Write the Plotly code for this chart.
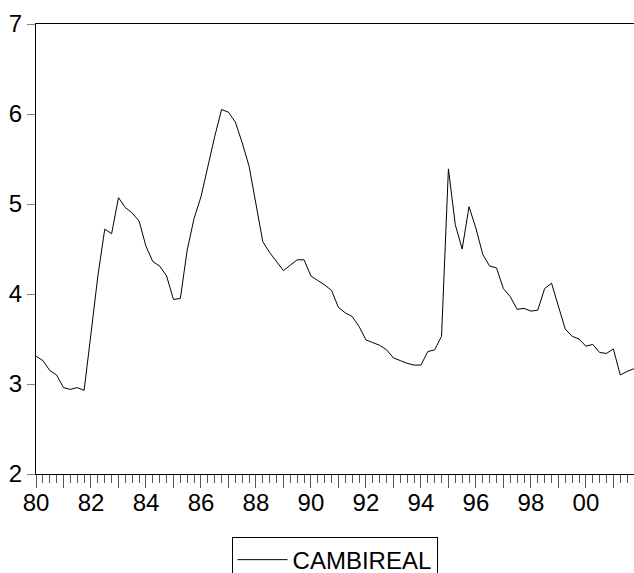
import plotly.graph_objects as go

# Quarterly real exchange rate, 1980Q1 - 2001Q4
start_year = 1980
cambireal = [
    3.31, 3.26, 3.15, 3.10, 2.96, 2.94, 2.96, 2.93,
    3.56, 4.20, 4.72, 4.67, 5.07, 4.96, 4.90, 4.81,
    4.53, 4.36, 4.31, 4.20, 3.94, 3.95, 4.49, 4.84,
    5.08, 5.42, 5.75, 6.05, 6.02, 5.91, 5.68, 5.42,
    5.01, 4.58, 4.46, 4.36, 4.26, 4.32, 4.38, 4.38,
    4.20, 4.15, 4.10, 4.04, 3.85, 3.79, 3.75, 3.64,
    3.49, 3.46, 3.43, 3.38, 3.29, 3.26, 3.23, 3.21,
    3.21, 3.36, 3.38, 3.53, 5.39, 4.77, 4.50, 4.97,
    4.73, 4.44, 4.31, 4.29, 4.06, 3.97, 3.83, 3.84,
    3.81, 3.82, 4.06, 4.12, 3.86, 3.61, 3.53, 3.50,
    3.42, 3.44, 3.35, 3.34, 3.39, 3.10, 3.14, 3.17,
]
quarters = [start_year + i / 4 for i in range(len(cambireal))]

years = list(range(1980, 2002))
year_labels = [f"{y % 100:02d}" if y % 2 == 0 else "" for y in years]
quarter_ticks = [q for q in quarters if abs(q - round(q)) > 1e-9]

font_family = "Liberation Sans, Arial, sans-serif"

fig = go.Figure()
fig.add_trace(go.Scatter(
    x=quarters, y=cambireal, mode="lines", name="CAMBIREAL",
    line=dict(color="black", width=1),
))

fig.update_layout(
    width=634, height=573,
    margin=dict(l=36, r=0, t=24, b=99, autoexpand=False),
    paper_bgcolor="white", plot_bgcolor="white",
    font=dict(family=font_family, size=24, color="black"),
    showlegend=True,
    legend=dict(
        x=0.327, y=-0.139, xanchor="left", yanchor="top",
        bordercolor="black", borderwidth=1, bgcolor="white",
        font=dict(size=24, family=font_family),
        itemwidth=50,
    ),
)

fig.update_xaxes(
    range=[1980, 2001.75],
    tickmode="array", tickvals=years, ticktext=year_labels,
    ticks="outside", ticklen=13, tickwidth=1, tickcolor="#555555",
    minor=dict(tickmode="array", tickvals=quarter_ticks, ticks="outside",
               ticklen=8, tickwidth=1, tickcolor="#555555"),
    showline=True, linecolor="black", linewidth=1, mirror=True,
    showgrid=False, zeroline=False,
    ticklabelstandoff=-6,
    tickfont=dict(size=24, family=font_family),
)
fig.update_yaxes(
    range=[2, 7], tickmode="linear", tick0=2, dtick=1,
    ticks="outside", ticklen=8, tickwidth=1, tickcolor="#808080",
    showline=True, linecolor="black", linewidth=1, mirror=True,
    showgrid=False, zeroline=False,
    tickfont=dict(size=24, family=font_family),
)

fig.write_html("out.html")
